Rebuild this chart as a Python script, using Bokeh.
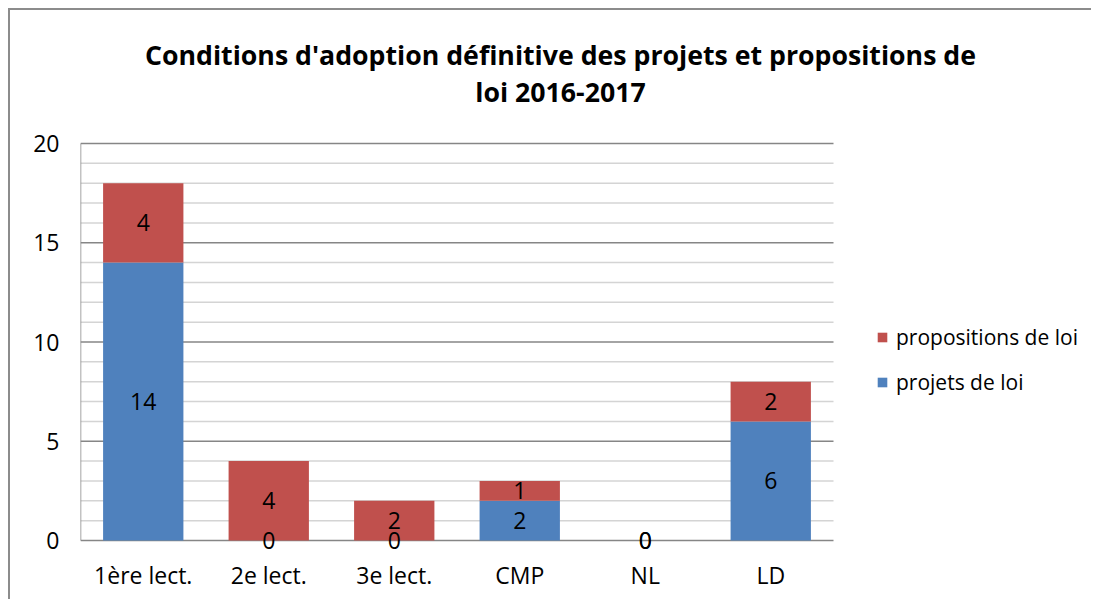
from bokeh.plotting import figure
from bokeh.models import (ColumnDataSource, FixedTicker, Legend, LegendItem, Label, Range1d)
from bokeh.core.properties import value
from bokeh.embed import file_html
from bokeh.resources import INLINE

categories = ["1ère lect.", "2e lect.", "3e lect.", "CMP", "NL", "LD"]
projets = [14, 0, 0, 2, 0, 6]
propositions = [4, 4, 2, 1, 0, 2]
series_names = ["projets de loi", "propositions de loi"]
y_major_ticks = [0, 5, 10, 15, 20]
y_minor_ticks = list(range(0, 21))
title_lines = ["Conditions d'adoption définitive des projets et propositions de",
               "loi 2016-2017"]

BLUE = "#4F81BD"
RED = "#C0504D"
FONT = "Open Sans"
MAJOR_GREY = "#868686"
MINOR_GREY = "#d4d4d4"

# ---- layout geometry (pixels) ----
W, H = 1083, 591
BL, BR, BT, BB = 70, 0, 5, 48
frame_w = W - BL - BR
frame_h = H - BT - BB
plot_px = 753              # width of the plotting (bar) area inside the frame
zero_px_from_bottom = 13   # room below 0 for the "0" labels
top_px_above_max = 128     # room above 20 for the title

n = len(categories)
x_pos = list(range(1, n + 1))
x_start = 0.5
x_end = x_start + n * frame_w / plot_px
y_max = y_major_ticks[-1]
unit = (frame_h - zero_px_from_bottom - top_px_above_max) / y_max
y_start = -zero_px_from_bottom / unit
y_end = y_max + top_px_above_max / unit

src = ColumnDataSource(dict(
    x=x_pos,
    projets=projets,
    propositions=propositions,
    proj_mid=[v / 2 for v in projets],
    prop_mid=[a + b / 2 for a, b in zip(projets, propositions)],
    proj_txt=[str(v) for v in projets],
    prop_txt=[str(v) for v in propositions],
))

p = figure(x_range=Range1d(x_start, x_end), y_range=Range1d(y_start, y_end),
           width=W, height=H, output_backend="svg", toolbar_location=None,
           min_border_left=BL, min_border_right=BR, min_border_bottom=BB, min_border_top=BT)
p.styles = {"border-top": "2px solid #8c8c8c", "border-left": "2px solid #8c8c8c",
            "margin-left": "8px", "margin-top": "8px"}
p.title.visible = False
p.outline_line_color = None
p.xgrid.visible = False
p.ygrid.visible = False

# horizontal gridlines limited to the bar area
minor_only = [t for t in y_minor_ticks if t not in y_major_ticks]
p.segment(x0=[x_start] * len(minor_only), x1=[x_start + n] * len(minor_only),
          y0=minor_only, y1=minor_only, line_color=MINOR_GREY, line_width=1.5)
p.segment(x0=[x_start] * len(y_major_ticks), x1=[x_start + n] * len(y_major_ticks),
          y0=y_major_ticks, y1=y_major_ticks, line_color=MAJOR_GREY, line_width=1.3)
# value-axis line
p.segment(x0=[x_start], y0=[0], x1=[x_start], y1=[y_max], line_color=MAJOR_GREY, line_width=1.5)

r = p.vbar_stack(["projets", "propositions"], x="x", width=0.64, source=src,
                 color=[BLUE, RED], line_color=None)

for ycol, tcol in (("proj_mid", "proj_txt"), ("prop_mid", "prop_txt")):
    p.text(x="x", y=ycol, text=tcol, source=src, text_align="center",
           text_baseline="middle", text_font=value(FONT), text_font_size="23px",
           text_color="#000000")

p.yaxis.ticker = FixedTicker(ticks=y_major_ticks, minor_ticks=[])
p.xaxis.ticker = FixedTicker(ticks=x_pos, minor_ticks=[])
p.xaxis.major_label_overrides = {xp: c for xp, c in zip(x_pos, categories)}

for ax in (p.xaxis, p.yaxis):
    ax.axis_line_color = None
    ax.major_tick_line_color = None
    ax.minor_tick_line_color = None
    ax.major_tick_out = 0
    ax.minor_tick_out = 0
    ax.major_label_text_font = FONT
    ax.major_label_text_font_size = "23px"
    ax.major_label_text_color = "#000000"
p.yaxis.major_label_standoff = 21
p.xaxis.major_label_standoff = 5

# title (two centred lines, inside the frame's upper margin)
for line, base in zip(title_lines, (499, 462)):
    p.add_layout(Label(x=480, y=base, x_units="screen", y_units="screen", text=line,
                       text_align="center", text_baseline="alphabetic",
                       text_font=FONT, text_font_size="26.7px", text_font_style="bold",
                       text_color="#000000"))

legend = Legend(items=[LegendItem(label=series_names[1], renderers=[r[1]]),
                       LegendItem(label=series_names[0], renderers=[r[0]])],
                location=(796, 157), padding=0, margin=0, border_line_color=None,
                background_fill_alpha=0, glyph_width=12, glyph_height=12,
                label_height=20, spacing=17, label_standoff=8,
                label_text_font=FONT, label_text_font_size="21px", label_text_color="#000000")
p.add_layout(legend, "center")

open("out.html", "w").write(file_html(p, INLINE))
